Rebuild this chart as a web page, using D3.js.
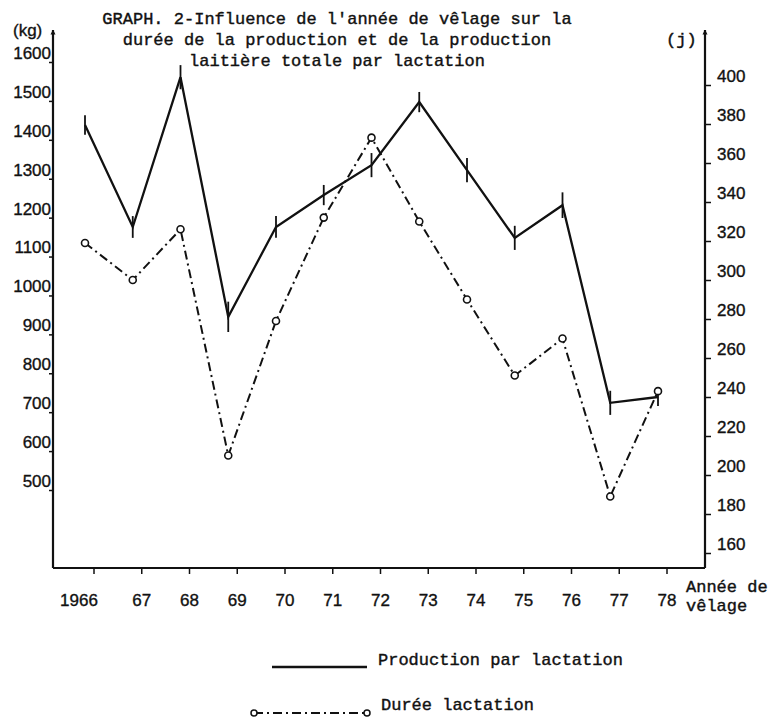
<!DOCTYPE html>
<html lang="fr">
<head>
<meta charset="utf-8">
<title>GRAPH. 2 - Influence de l'année de vêlage</title>
<script src="https://cdn.jsdelivr.net/npm/d3@7"></script>
<style>
  html, body { margin: 0; padding: 0; background: #fff; }
  svg { display: block; }
  .typed { font-family: "Liberation Mono", "DejaVu Sans Mono", monospace; font-size: 17px; fill: #111; stroke: #111; stroke-width: 0.4px; }
  .digits { font-family: "Liberation Sans", Arial, sans-serif; font-size: 17px; fill: #111; stroke: #111; stroke-width: 0.35px; }
</style>
</head>
<body>
<div id="chart"></div>
<script>
// années de vêlage
const years = [1966, 1967, 1968, 1969, 1970, 1971, 1972, 1973, 1974, 1975, 1976, 1977, 1978];
const yearLabels = ['1966', '67', '68', '69', '70', '71', '72', '73', '74', '75', '76', '77', '78'];

// production par lactation (kg) et demi-barre d'erreur (kg)
const production = [1438, 1176, 1561, 945, 1176, 1258, 1335, 1497, 1322, 1148, 1232, 724, 739];
const productionErr = [25, 28, 31, 39, 28, 26, 31, 26, 31, 31, 33, 31, 23];

// durée lactation (j)
const duree = [319, 300, 326, 210, 279, 332, 373, 330, 290, 251, 270, 189, 243];

const kgTicks = [500, 600, 700, 800, 900, 1000, 1100, 1200, 1300, 1400, 1500, 1600];
const dayTicks = [160, 180, 200, 220, 240, 260, 280, 300, 320, 340, 360, 380, 400];

const titleLines = [
  "GRAPH. 2-Influence de l'année de vêlage sur la",
  'durée de la production et de la production',
  'laitière totale par lactation'
];
const legendLabels = ['Production par lactation', 'Durée lactation'];

const width = 768;
const height = 718;
const axisLeftX = 53;
const axisRightX = 705;
const axisBottomY = 568;
const axisTopY = 30;

const svg = d3.select('#chart')
  .append('svg')
  .attr('width', width)
  .attr('height', height)
  .attr('xmlns', 'http://www.w3.org/2000/svg');

svg.append('defs')
  .append('marker')
  .attr('id', 'arrow')
  .attr('viewBox', '0 0 10 10')
  .attr('refX', 9)
  .attr('refY', 5)
  .attr('markerWidth', 5)
  .attr('markerHeight', 6)
  .attr('markerUnits', 'userSpaceOnUse')
  .attr('orient', 'auto')
  .append('path')
  .attr('d', 'M0,0 L10,5 L0,10 Z')
  .attr('fill', '#111');

// scales
const x = d3.scaleLinear().domain([1966, 1978]).range([85, 658]);
const yKg = d3.scaleLinear().domain([500, 1600]).range([490, 62]);
const yDay = d3.scaleLinear().domain([160, 400]).range([553, 85]);

// axis frame
const frame = svg.append('g').attr('stroke', '#111').attr('stroke-width', 2.2).attr('fill', 'none');
frame.append('line')
  .attr('x1', axisLeftX).attr('y1', axisBottomY)
  .attr('x2', axisRightX).attr('y2', axisBottomY);
frame.append('line')
  .attr('x1', axisLeftX).attr('y1', axisBottomY)
  .attr('x2', axisLeftX).attr('y2', axisTopY)
  .attr('marker-end', 'url(#arrow)');
frame.append('line')
  .attr('x1', axisRightX).attr('y1', axisBottomY)
  .attr('x2', axisRightX).attr('y2', axisTopY)
  .attr('marker-end', 'url(#arrow)');

// left axis (kg)
const leftAxis = svg.append('g')
  .attr('transform', `translate(${axisLeftX},0)`)
  .call(d3.axisLeft(yKg).tickValues(kgTicks).tickSize(4).tickPadding(-2).tickFormat(d3.format('d')));
leftAxis.select('.domain').remove();
leftAxis.selectAll('line').attr('stroke', '#111').attr('stroke-width', 1.5);
leftAxis.selectAll('text')
  .attr('class', 'digits')
  .attr('font-family', null)
  .attr('font-size', null)
  .attr('y', -9);

// right axis (j)
const rightAxis = svg.append('g')
  .attr('transform', `translate(${axisRightX},0)`)
  .call(d3.axisRight(yDay).tickValues(dayTicks).tickSize(6).tickPadding(6));
rightAxis.select('.domain').remove();
rightAxis.selectAll('line').attr('stroke', '#111').attr('stroke-width', 1.5);
rightAxis.selectAll('text')
  .attr('class', 'digits')
  .attr('font-family', null)
  .attr('font-size', null)
  .attr('y', -9);

// bottom axis (années), ticks sit a little right of the plotted points
const bottomAxis = svg.append('g')
  .attr('transform', `translate(8.5,${axisBottomY})`)
  .call(d3.axisBottom(x).tickValues(years).tickSize(6).tickPadding(20)
    .tickFormat((d, i) => yearLabels[i]));
bottomAxis.select('.domain').remove();
bottomAxis.selectAll('line').attr('stroke', '#111').attr('stroke-width', 1.5);
bottomAxis.selectAll('text')
  .attr('class', 'digits')
  .attr('font-family', null)
  .attr('font-size', null)
  .attr('dx', (d, i) => i === 0 ? -15 : 0);

// axis units
svg.append('text').attr('class', 'digits').attr('x', 13).attr('y', 36).text('(kg)');
svg.append('text').attr('class', 'typed').attr('x', 666).attr('y', 45).text('(j)');
svg.append('text').attr('class', 'typed').attr('x', 686).attr('y', 592).text('Année de');
svg.append('text').attr('class', 'typed').attr('x', 686).attr('y', 611).text('vêlage');

// title
svg.append('g')
  .selectAll('text')
  .data(titleLines)
  .join('text')
  .attr('class', 'typed')
  .attr('text-anchor', 'middle')
  .attr('x', 337)
  .attr('y', (d, i) => 24 + i * 21)
  .text(d => d);

// durée lactation : dash-dot line with open circles
const dureeLine = d3.line()
  .x((d, i) => x(years[i]))
  .y(d => yDay(d));
svg.append('path')
  .datum(duree)
  .attr('d', dureeLine)
  .attr('fill', 'none')
  .attr('stroke', '#111')
  .attr('stroke-width', 2)
  .attr('stroke-dasharray', '9,4,2,4');

// production : solid line with error bars
const prodLine = d3.line()
  .x((d, i) => x(years[i]))
  .y(d => yKg(d));
svg.append('path')
  .datum(production)
  .attr('d', prodLine)
  .attr('fill', 'none')
  .attr('stroke', '#111')
  .attr('stroke-width', 2.3)
  .attr('stroke-linejoin', 'miter');

svg.append('g')
  .selectAll('line')
  .data(production)
  .join('line')
  .attr('x1', (d, i) => x(years[i]))
  .attr('x2', (d, i) => x(years[i]))
  .attr('y1', (d, i) => yKg(d + productionErr[i]))
  .attr('y2', (d, i) => yKg(d - productionErr[i]))
  .attr('stroke', '#111')
  .attr('stroke-width', 1.8);

svg.append('g')
  .selectAll('circle')
  .data(duree)
  .join('circle')
  .attr('cx', (d, i) => x(years[i]))
  .attr('cy', d => yDay(d))
  .attr('r', 3.5)
  .attr('fill', '#fff')
  .attr('stroke', '#111')
  .attr('stroke-width', 1.6);

// legend
const legend = svg.append('g');
legend.append('line')
  .attr('x1', 272).attr('x2', 367)
  .attr('y1', 667).attr('y2', 667)
  .attr('stroke', '#111')
  .attr('stroke-width', 2.3);
legend.append('text')
  .attr('class', 'typed')
  .attr('x', 378)
  .attr('y', 665)
  .text(legendLabels[0]);

legend.append('line')
  .attr('x1', 254).attr('x2', 367)
  .attr('y1', 713).attr('y2', 713)
  .attr('stroke', '#111')
  .attr('stroke-width', 2)
  .attr('stroke-dasharray', '9,4,2,4');
legend.selectAll('circle')
  .data([254, 367])
  .join('circle')
  .attr('cx', d => d)
  .attr('cy', 713)
  .attr('r', 3)
  .attr('fill', '#fff')
  .attr('stroke', '#111')
  .attr('stroke-width', 1.5);
legend.append('text')
  .attr('class', 'typed')
  .attr('x', 381)
  .attr('y', 710)
  .text(legendLabels[1]);
</script>
</body>
</html>
